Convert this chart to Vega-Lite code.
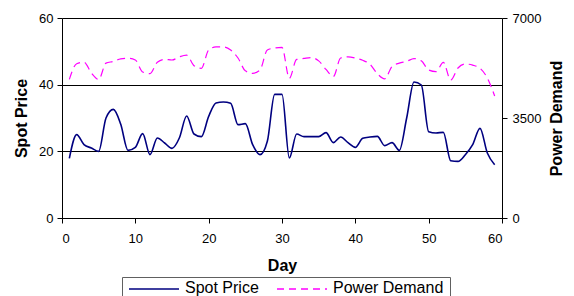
{
  "$schema": "https://vega.github.io/schema/vega-lite/v6.json",
  "width": 440,
  "height": 200,
  "autosize": {"type": "none"},
  "padding": {"left": 62, "top": 18, "right": 72, "bottom": 78},
  "background": "white",
  "config": {
    "view": {"stroke": null},
    "font": "Liberation Sans",
    "axis": {
      "domainColor": "black",
      "tickColor": "black",
      "labelColor": "black",
      "titleColor": "black",
      "labelFont": "Liberation Sans",
      "labelFontSize": 13,
      "titleFont": "Liberation Sans",
      "titleFontSize": 16,
      "titleFontWeight": "bold",
      "tickSize": 5
    }
  },
  "data": {
    "values": [
      {"day": 1, "price": 17.9, "demand": 4850},
      {"day": 2, "price": 25.0, "demand": 5400},
      {"day": 3, "price": 22.0, "demand": 5450},
      {"day": 4, "price": 21.0, "demand": 5080},
      {"day": 5, "price": 20.0, "demand": 4850},
      {"day": 6, "price": 30.0, "demand": 5420},
      {"day": 7, "price": 32.6, "demand": 5480},
      {"day": 8, "price": 28.2, "demand": 5570},
      {"day": 9, "price": 20.3, "demand": 5590},
      {"day": 10, "price": 21.2, "demand": 5530},
      {"day": 11, "price": 25.3, "demand": 5110},
      {"day": 12, "price": 19.0, "demand": 5050},
      {"day": 13, "price": 24.0, "demand": 5450},
      {"day": 14, "price": 22.5, "demand": 5550},
      {"day": 15, "price": 20.9, "demand": 5530},
      {"day": 16, "price": 24.0, "demand": 5640},
      {"day": 17, "price": 30.6, "demand": 5700},
      {"day": 18, "price": 25.2, "demand": 5330},
      {"day": 19, "price": 24.4, "demand": 5240},
      {"day": 20, "price": 30.5, "demand": 5880},
      {"day": 21, "price": 34.5, "demand": 5990},
      {"day": 22, "price": 34.8, "demand": 5990},
      {"day": 23, "price": 34.4, "demand": 5880},
      {"day": 24, "price": 28.0, "demand": 5600},
      {"day": 25, "price": 28.3, "demand": 5150},
      {"day": 26, "price": 22.0, "demand": 5064},
      {"day": 27, "price": 19.0, "demand": 5180},
      {"day": 28, "price": 23.0, "demand": 5880},
      {"day": 29, "price": 37.1, "demand": 5950},
      {"day": 30, "price": 37.1, "demand": 5973},
      {"day": 31, "price": 18.0, "demand": 4890},
      {"day": 32, "price": 25.2, "demand": 5550},
      {"day": 33, "price": 24.4, "demand": 5585},
      {"day": 34, "price": 24.4, "demand": 5612},
      {"day": 35, "price": 24.4, "demand": 5500},
      {"day": 36, "price": 25.6, "demand": 5200},
      {"day": 37, "price": 22.6, "demand": 4950},
      {"day": 38, "price": 24.3, "demand": 5600},
      {"day": 39, "price": 22.6, "demand": 5640},
      {"day": 40, "price": 21.2, "demand": 5600},
      {"day": 41, "price": 23.9, "demand": 5520},
      {"day": 42, "price": 24.3, "demand": 5380},
      {"day": 43, "price": 24.5, "demand": 5050},
      {"day": 44, "price": 21.7, "demand": 4870},
      {"day": 45, "price": 22.6, "demand": 5300},
      {"day": 46, "price": 20.3, "demand": 5420},
      {"day": 47, "price": 30.0, "demand": 5480},
      {"day": 48, "price": 40.8, "demand": 5580},
      {"day": 49, "price": 39.9, "demand": 5500},
      {"day": 50, "price": 25.9, "demand": 5180},
      {"day": 51, "price": 25.5, "demand": 5120},
      {"day": 52, "price": 25.7, "demand": 5448},
      {"day": 53, "price": 17.2, "demand": 4830},
      {"day": 54, "price": 17.0, "demand": 5250},
      {"day": 55, "price": 19.0, "demand": 5390},
      {"day": 56, "price": 22.0, "demand": 5350},
      {"day": 57, "price": 26.9, "demand": 5240},
      {"day": 58, "price": 19.5, "demand": 4900},
      {"day": 59, "price": 16.0, "demand": 4270}
    ]
  },
  "encoding": {
    "x": {
      "field": "day",
      "type": "quantitative",
      "scale": {"domain": [0, 60], "nice": false},
      "axis": {
        "title": "Day",
        "values": [0, 10, 20, 30, 40, 50, 60],
        "grid": false,
        "labelPadding": 9,
        "titlePadding": 12
      }
    }
  },
  "layer": [
    {
      "mark": {"type": "line", "interpolate": "monotone", "strokeWidth": 1.6},
      "encoding": {
        "y": {
          "field": "price",
          "type": "quantitative",
          "scale": {"domain": [0, 60], "nice": false},
          "axis": {
            "title": "Spot Price",
            "values": [0, 20, 40, 60],
            "grid": true,
            "gridColor": "black",
            "gridOpacity": 1,
            "gridWidth": 1,
            "labelPadding": 4,
            "titlePadding": 9
          }
        },
        "color": {
          "datum": "Spot Price",
          "scale": {"domain": ["Spot Price", "Power Demand"], "range": ["#000080", "#FF00FF"]},
          "legend": {
            "title": null,
            "orient": "none",
            "legendX": 60,
            "legendY": 259,
            "direction": "horizontal",
            "symbolType": "stroke",
            "symbolSize": 2500,
            "symbolStrokeWidth": 1.4,
            "labelFont": "Liberation Sans",
            "labelFontSize": 16,
            "labelColor": "black",
            "labelOffset": 5,
            "columnPadding": 15,
            "padding": 6,
            "strokeColor": "#606060",
            "fillColor": "white",
            "encode": {
              "symbols": {
                "update": {
                  "y": {"value": 6},
                  "strokeDash": {"signal": "datum.label === 'Power Demand' ? [7, 5] : [1, 0]"}
                }
              },
              "labels": {
                "update": {
                  "y": {"value": 5}
                }
              }
            }
          }
        }
      }
    },
    {
      "mark": {"type": "line", "interpolate": "monotone", "strokeWidth": 1.2, "strokeDash": [8, 5]},
      "encoding": {
        "y": {
          "field": "demand",
          "type": "quantitative",
          "scale": {"domain": [0, 7000], "nice": false},
          "axis": {
            "orient": "right",
            "title": "Power Demand",
            "titleAngle": 270,
            "titleBaseline": "top",
            "values": [0, 3500, 7000],
            "format": "d",
            "grid": false,
            "labelPadding": 5,
            "titlePadding": 8
          }
        },
        "color": {"datum": "Power Demand"}
      }
    }
  ],
  "resolve": {"scale": {"y": "independent"}}
}
